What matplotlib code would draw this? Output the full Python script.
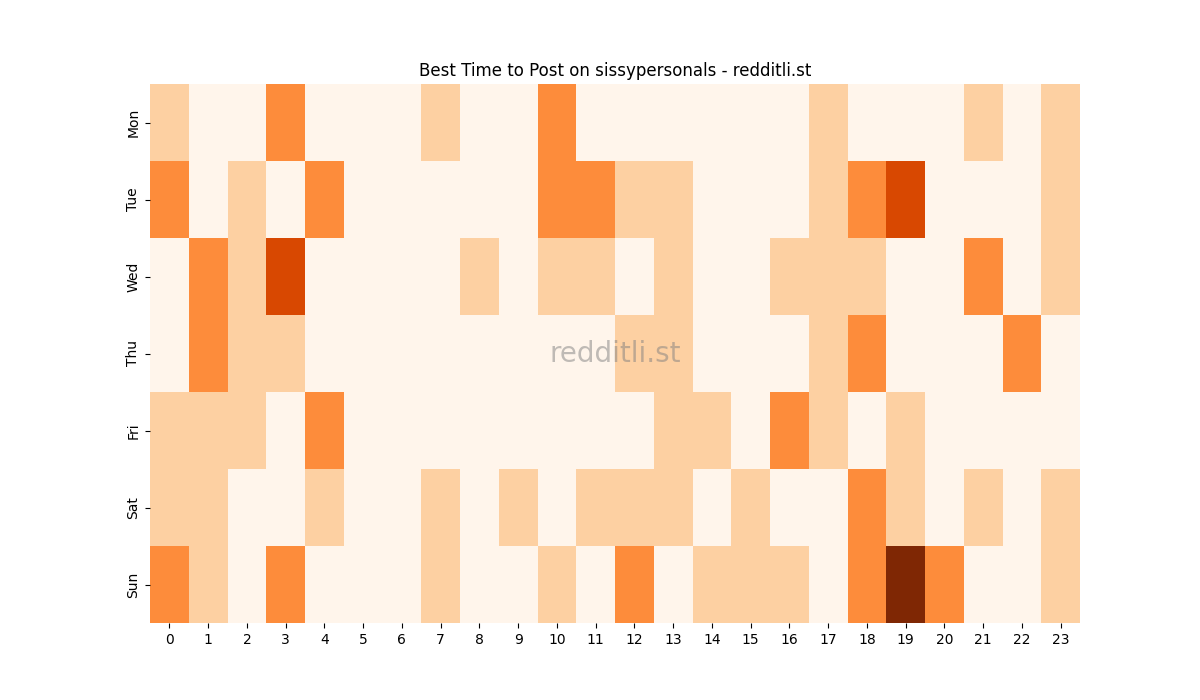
import matplotlib
matplotlib.use("Agg")
import matplotlib.pyplot as plt
import seaborn as sns
import numpy as np

days = ["Mon", "Tue", "Wed", "Thu", "Fri", "Sat", "Sun"]
hours = [str(h) for h in range(24)]

mon = [1,0,0,2,0,0,0,1,0,0,2,0,0,0,0,0,0,1,0,0,0,1,0,1]
tue = [2,0,1,0,2,0,0,0,0,0,2,2,1,1,0,0,0,1,2,3,0,0,0,1]
wed = [0,2,1,3,0,0,0,0,1,0,1,1,0,1,0,0,1,1,1,0,0,2,0,1]
thu = [0,2,1,1,0,0,0,0,0,0,0,0,1,1,0,0,0,1,2,0,0,0,2,0]
fri = [1,1,1,0,2,0,0,0,0,0,0,0,0,1,1,0,2,1,0,1,0,0,0,0]
sat = [1,1,0,0,1,0,0,1,0,1,0,1,1,1,0,1,0,0,2,1,0,1,0,1]
sun = [2,1,0,2,0,0,0,1,0,0,1,0,2,0,1,1,1,0,2,4,2,0,0,1]

data = np.array([mon, tue, wed, thu, fri, sat, sun])

fig = plt.figure(figsize=(12, 7), dpi=100)
ax = fig.add_axes([0.125, 0.11, 0.775, 0.77])
sns.heatmap(data, cmap="Oranges", vmin=0, vmax=4, cbar=False,
            xticklabels=hours, yticklabels=days, ax=ax)
ax.set_title("Best Time to Post on sissypersonals - redditli.st", fontsize=12)
ax.text(0.5, 0.5, "redditli.st", transform=ax.transAxes, ha="center", va="center",
        fontsize=20, color="gray", alpha=0.5)
plt.setp(ax.get_yticklabels(), rotation=90, va="center")
plt.setp(ax.get_xticklabels(), rotation=0)
fig.savefig("out.png", dpi=100)
